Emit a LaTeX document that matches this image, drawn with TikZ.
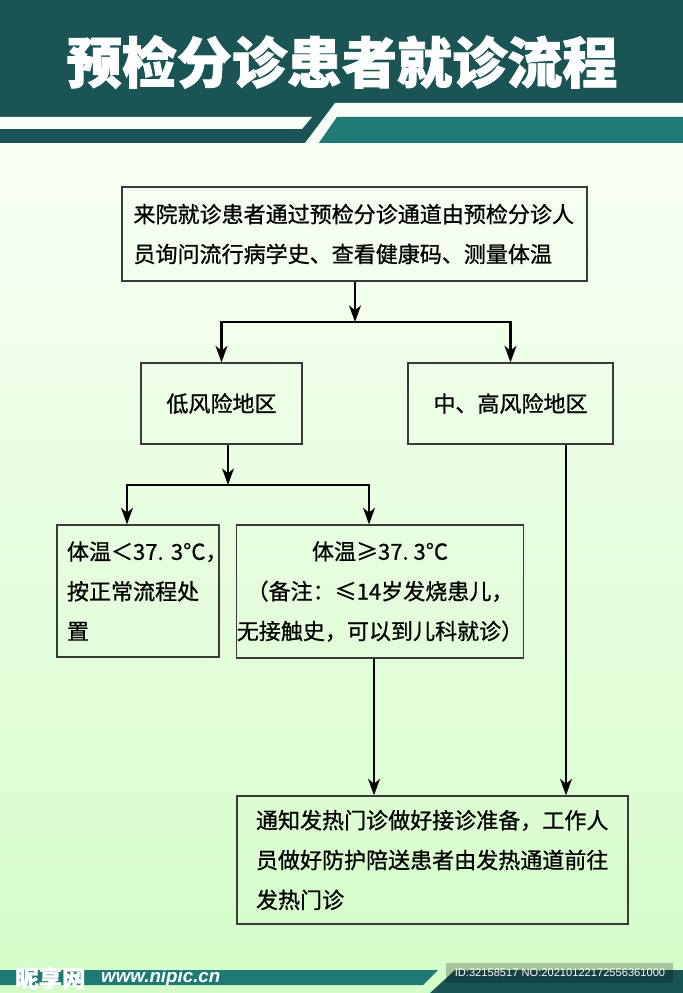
\documentclass[tikz,border=0pt]{standalone}
\usepackage{fontspec}
\setmainfont{Noto Sans CJK SC}[BoldFeatures={FakeBold=1.5}]
\newfontfamily\boxfont{Noto Sans CJK SC}[FakeBold=0.8]
\newfontfamily\latinfont{Liberation Sans}
\usetikzlibrary{arrows.meta}
\definecolor{headdark}{HTML}{1A5454}
\definecolor{headteal}{HTML}{1F7975}
\definecolor{bgtop}{HTML}{F8FFF4}
\definecolor{bgbottom}{HTML}{D4FCC8}
\definecolor{boxline}{HTML}{3A3A3A}
\def\px{0.03cm}

\begin{document}
\begin{tikzpicture}[x=0.03cm,y=-0.03cm,
    box/.style={draw=boxline,line width=1pt,inner sep=0pt,font=\boxfont\fontsize{18.8pt}{34pt}\selectfont},
    arr/.style={line width=2.5pt,-{Stealth[length=14pt,width=10pt,inset=4pt]}}]
\useasboundingbox (0,0) rectangle (683,993);
% background and header
\shade[top color=bgtop,bottom color=bgbottom] (0,143) rectangle (683,993);
\fill[headdark] (0,0) rectangle (683,143);
\fill[white!97!green] (683,103) -- (335,103) -- (305,143) -- (319,143) -- (337,117) -- (683,117) -- cycle;
\fill[white!97!green] (0,117) -- (312,117) -- (302,129) -- (0,129) -- cycle;
\fill[headteal] (337,117) -- (683,117) -- (683,143) -- (319,143) -- cycle;
\node[text=white,font=\fontsize{47pt}{50pt}\selectfont\bfseries] (title) at (342,62) {预检分诊患者就诊流程};

% boxes
\node[box,minimum width=465*\px,minimum height=94*\px,text width=442*\px,align=left] (top) at (354.5,234)
  {来院就诊患者通过预检分诊通道由预检分诊人\\员询问流行病学史、查看健康码、测量体温};
\node[box,minimum width=161*\px,minimum height=81*\px] (lowrisk) at (221.5,403.5) {低风险地区};
\node[box,minimum width=205*\px,minimum height=81*\px] (highrisk) at (510.5,403.5) {中、高风险地区};
\node[box,minimum width=162*\px,minimum height=132*\px,text width=142*\px,align=left] (normal) at (138,591)
  {体温＜37.~3°C，\\按正常流程处\\置};
\node[box,minimum width=286*\px,minimum height=133*\px,align=center] (fever) at (380,591.5)
  {体温≥37.~3°C\\（备注：≤14岁发烧患儿，\\无接触史，可以到儿科就诊）};
\node[box,minimum width=391*\px,minimum height=128*\px,text width=353*\px,align=left] (clinic) at (432.5,860)
  {通知发热门诊做好接诊准备，工作人\\员做好防护陪送患者由发热通道前往\\发热门诊};

% connectors
\coordinate (j1) at (355,322);
\coordinate (j2) at (228,485);
\draw[arr] (top.south -| j1) -- (j1);
\draw[arr] (j1) -| (lowrisk.north);
\draw[arr] (j1) -| (highrisk.north);
\draw[arr] (lowrisk.south -| j2) -- (j2);
\draw[arr] (j2) -| ([xshift=-11*\px]normal.north);
\draw[arr] (j2) -| ([xshift=-11*\px]fever.north);
\draw[arr] ([xshift=-6*\px]fever.south) -- ([xshift=-6*\px]fever.south |- clinic.north);
\draw[arr] ([xshift=55.5*\px]highrisk.south) -- ([xshift=55.5*\px]highrisk.south |- clinic.north);

% footer bands
\fill[headteal] (0,970) -- (438,970) -- (423,985) -- (0,985) -- cycle;
\fill[headdark] (455,970) -- (683,970) -- (683,993) -- (430,993) -- cycle;
\fill[black,opacity=0.22] (446,963) rectangle (673,983);
\node[text=white,font=\fontsize{20pt}{22pt}\selectfont\bfseries,anchor=west,inner sep=0pt] (brand) at (15,978) {昵享网};
\node[text=white,font=\latinfont\bfseries\itshape\fontsize{16pt}{18pt}\selectfont,anchor=west,inner sep=0pt] (site) at (101,978) {www.nipic.cn};
\node[text=white,font=\latinfont\fontsize{9.5pt}{10pt}\selectfont] (id) at (560,973) {ID:32158517 NO:20210122172556361000};
\end{tikzpicture}
\end{document}
